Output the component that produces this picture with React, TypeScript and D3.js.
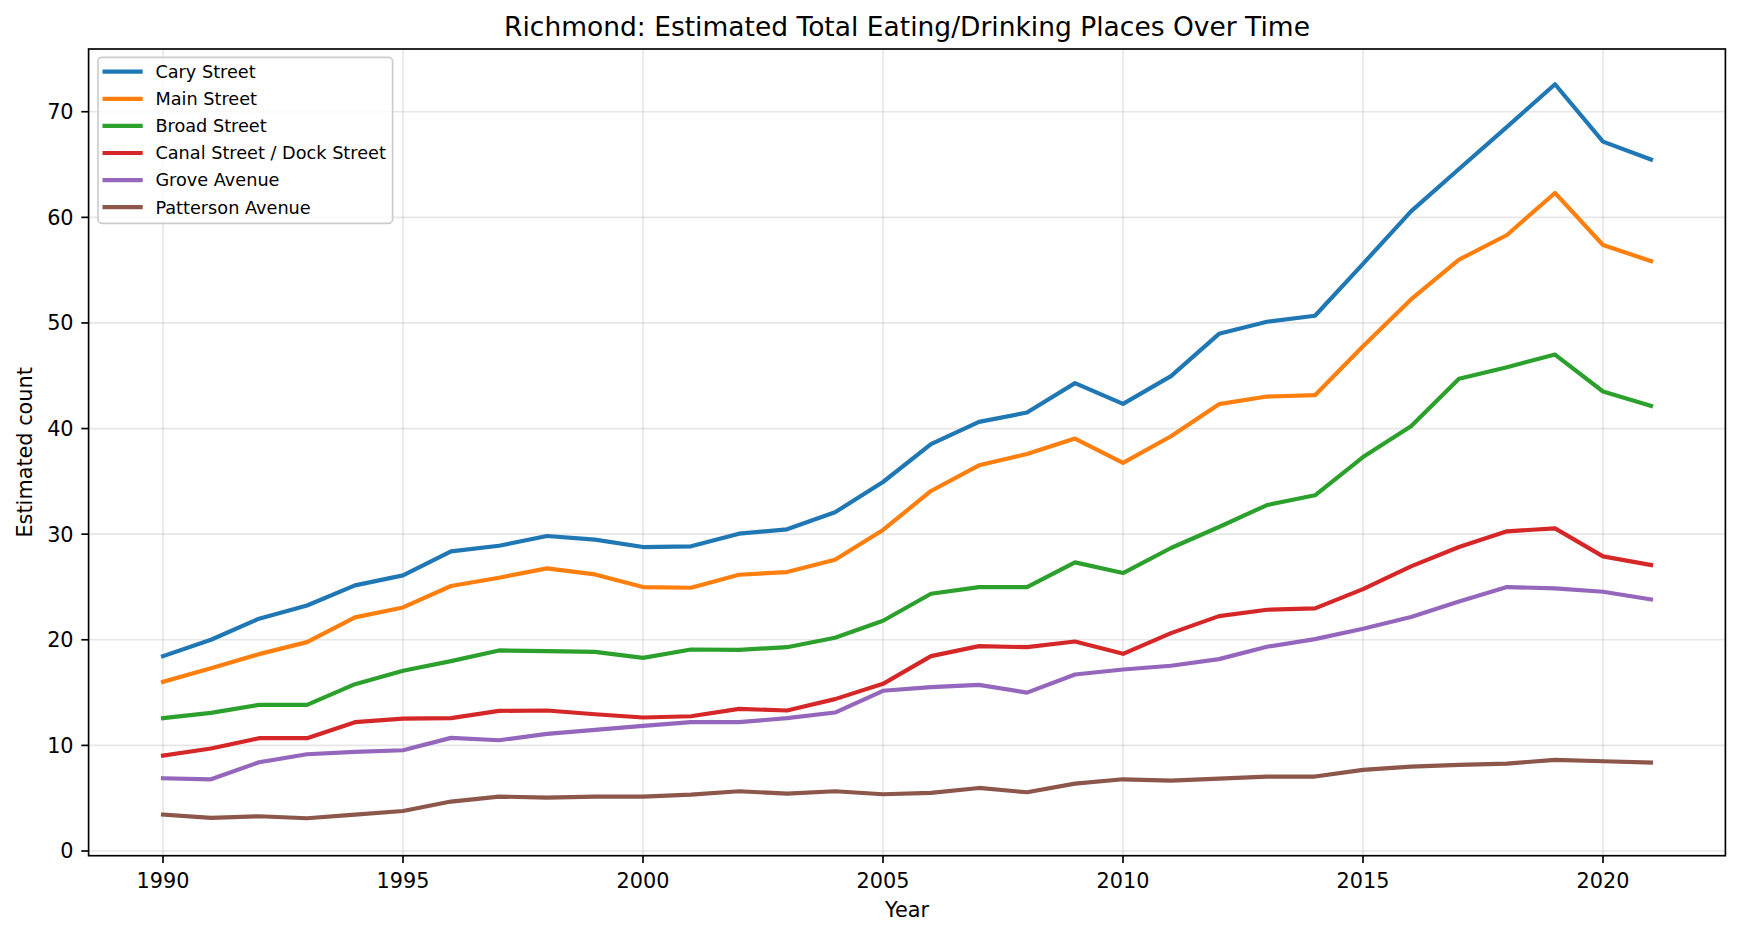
import React from 'react'
import * as d3 from 'd3'

const years = [1990, 1991, 1992, 1993, 1994, 1995, 1996, 1997, 1998, 1999, 2000, 2001, 2002, 2003, 2004, 2005,
    2006, 2007, 2008, 2009, 2010, 2011, 2012, 2013, 2014, 2015, 2016, 2017, 2018, 2019, 2020, 2021]

const caryStreet = [18.45, 20.0, 22.0, 23.25, 25.15, 26.1, 28.37, 28.9, 29.83, 29.48, 28.78, 28.85, 30.05, 30.46, 32.07, 34.94,
    38.52, 40.63, 41.52, 44.3, 42.34, 44.96, 48.97, 50.11, 50.68, 55.6, 60.57, 64.58, 68.56, 72.6, 67.17, 65.47]
const mainStreet = [16.02, 17.31, 18.64, 19.78, 22.12, 23.06, 25.09, 25.88, 26.76, 26.19, 24.99, 24.93, 26.16, 26.41, 27.58, 30.4,
    34.09, 36.52, 37.6, 39.05, 36.75, 39.27, 42.31, 43.03, 43.16, 47.8, 52.23, 55.99, 58.33, 62.31, 57.38, 55.86]
const broadStreet = [12.58, 13.08, 13.84, 13.84, 15.8, 17.06, 17.98, 18.99, 18.93, 18.86, 18.29, 19.08, 19.05, 19.3, 20.19, 21.8,
    24.36, 24.99, 24.99, 27.33, 26.32, 28.69, 30.68, 32.76, 33.68, 37.3, 40.22, 44.71, 45.81, 47.01, 43.51, 42.15]
const canalDockStreet = [9.04, 9.7, 10.68, 10.68, 12.2, 12.54, 12.58, 13.27, 13.3, 12.95, 12.64, 12.76, 13.46, 13.3, 14.38, 15.83,
    18.45, 19.4, 19.3, 19.84, 18.67, 20.63, 22.24, 22.84, 22.97, 24.8, 26.95, 28.78, 30.27, 30.55, 27.9, 27.08]
const groveAvenue = [6.89, 6.79, 8.4, 9.16, 9.38, 9.54, 10.71, 10.49, 11.09, 11.47, 11.85, 12.2, 12.2, 12.58, 13.11, 15.17,
    15.51, 15.73, 15.0, 16.71, 17.19, 17.54, 18.17, 19.34, 20.06, 21.04, 22.15, 23.63, 24.99, 24.87, 24.55, 23.82]
const pattersonAvenue = [3.44, 3.13, 3.29, 3.1, 3.44, 3.79, 4.68, 5.15, 5.06, 5.15, 5.15, 5.34, 5.66, 5.43, 5.66, 5.37,
    5.5, 5.97, 5.56, 6.38, 6.79, 6.67, 6.86, 7.05, 7.05, 7.68, 7.99, 8.15, 8.28, 8.63, 8.5, 8.37]

const seriesNames = ['Cary Street', 'Main Street', 'Broad Street', 'Canal Street / Dock Street', 'Grove Avenue', 'Patterson Avenue']
const seriesValues = [caryStreet, mainStreet, broadStreet, canalDockStreet, groveAvenue, pattersonAvenue]
const colors = ['#1f77b4', '#ff7f0e', '#2ca02c', '#d62728', '#9467bd', '#8c564b']

const xTicks = [1990, 1995, 2000, 2005, 2010, 2015, 2020]
const yTicks = [0, 10, 20, 30, 40, 50, 60, 70]

const W = 1741
const H = 936
const plot = { left: 88.6, right: 1725.4, top: 49, bottom: 855.7 }
const font = 'DejaVu Sans, sans-serif'

export default function App() {
    const x = d3.scaleLinear().domain([1988.45, 2022.55]).range([plot.left, plot.right])
    const y = d3.scaleLinear().domain([-0.445, 75.94]).range([plot.bottom, plot.top])

    const line = d3.line<number>()
        .x((_, i) => x(years[i]))
        .y(d => y(d))

    const midX = (plot.left + plot.right) / 2
    const midY = (plot.top + plot.bottom) / 2

    // legend layout
    const lg = { x: 98, y: 57.3, w: 294.6, h: 166, row: 27.1, first: 71.7 }

    return (
        <svg width={W} height={H} style={{ position: 'absolute', left: 0, top: 0, background: '#fff' }}
            fontFamily={font}>
            <rect x={0} y={0} width={W} height={H} fill="#fff" />

            {/* grid */}
            <g stroke="#b0b0b0" strokeOpacity={0.3} strokeWidth={1.67}>
                {xTicks.map(t => <line key={'gx' + t} x1={x(t)} x2={x(t)} y1={plot.top} y2={plot.bottom} />)}
                {yTicks.map(t => <line key={'gy' + t} x1={plot.left} x2={plot.right} y1={y(t)} y2={y(t)} />)}
            </g>

            {/* lines */}
            <g fill="none" strokeWidth={4.17} strokeLinejoin="round" strokeLinecap="square">
                {seriesValues.map((vals, i) => (
                    <path key={seriesNames[i]} d={line(vals) || ''} stroke={colors[i]} />
                ))}
            </g>

            {/* spines */}
            <rect x={plot.left} y={plot.top} width={plot.right - plot.left} height={plot.bottom - plot.top}
                fill="none" stroke="#000" strokeWidth={1.67} strokeLinecap="square" />

            {/* x axis */}
            <g fontSize={20.8} fill="#000" textAnchor="middle">
                {xTicks.map(t => (
                    <g key={'xt' + t}>
                        <line x1={x(t)} x2={x(t)} y1={plot.bottom} y2={plot.bottom + 7.3} stroke="#000" strokeWidth={1.67} />
                        <text x={x(t)} y={plot.bottom + 32}>{t}</text>
                    </g>
                ))}
            </g>
            <text x={midX} y={917.3} fontSize={20.8} textAnchor="middle" fill="#000">Year</text>

            {/* y axis */}
            <g fontSize={20.8} fill="#000" textAnchor="end">
                {yTicks.map(t => (
                    <g key={'yt' + t}>
                        <line x1={plot.left - 7.3} x2={plot.left} y1={y(t)} y2={y(t)} stroke="#000" strokeWidth={1.67} />
                        <text x={plot.left - 15} y={y(t)} dy="0.36em">{t}</text>
                    </g>
                ))}
            </g>
            <text transform={`translate(32.3,${midY}) rotate(-90)`} fontSize={20.8} textAnchor="middle" fill="#000">
                Estimated count
            </text>

            {/* title */}
            <text x={midX} y={35.7} fontSize={26.5} textAnchor="middle" fill="#000">
                Richmond: Estimated Total Eating/Drinking Places Over Time
            </text>

            {/* legend */}
            <rect x={lg.x} y={lg.y} width={lg.w} height={lg.h} rx={4} ry={4}
                fill="#fff" fillOpacity={0.8} stroke="#cccccc" strokeWidth={1.67} />
            {seriesNames.map((name, i) => {
                const cy = lg.first + i * lg.row
                return (
                    <g key={'lg' + name}>
                        <line x1={104.6} x2={140.6} y1={cy} y2={cy} stroke={colors[i]} strokeWidth={4.17} strokeLinecap="square" />
                        <text x={155.4} y={cy} dy="0.36em" fontSize={17.7} fill="#000">{name}</text>
                    </g>
                )
            })}
        </svg>
    )
}
